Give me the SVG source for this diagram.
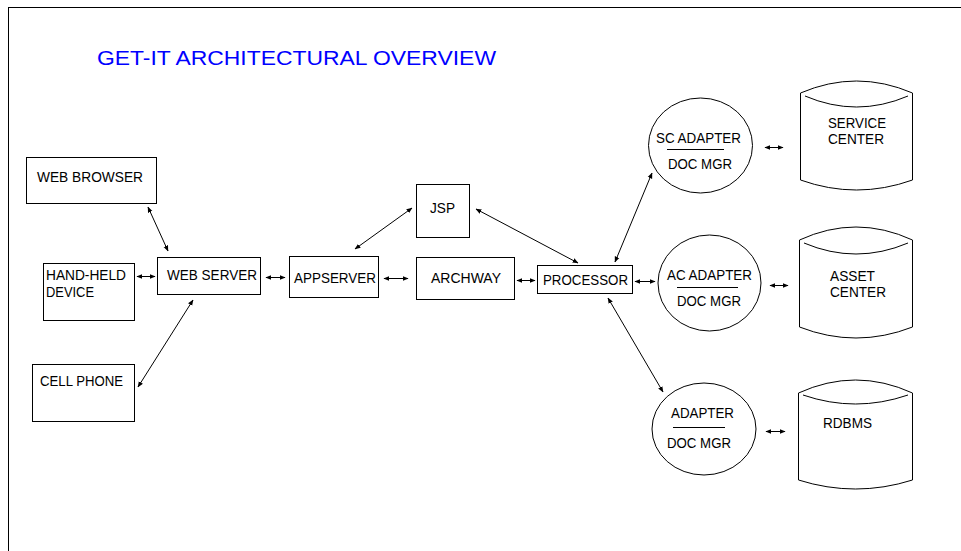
<svg xmlns="http://www.w3.org/2000/svg" width="961" height="551" viewBox="0 0 961 551">
<style>
text{font-family:"Liberation Sans",Arial,sans-serif;font-size:14px;fill:#000}
.title{font-size:20px;fill:#0000ff}
.box{fill:#fff;stroke:#000;stroke-width:1}
.shape{fill:#fff;stroke:#000;stroke-width:1}
.ln{fill:none;stroke:#000;stroke-width:1}
.conn line{stroke:#000;stroke-width:1;marker-start:url(#ah);marker-end:url(#ah)}
</style>
<defs>
<marker id="ah" viewBox="0 0 10 10" refX="9" refY="5" markerWidth="6" markerHeight="6" markerUnits="userSpaceOnUse" orient="auto-start-reverse">
<path d="M0,1 L10,5 L0,9 Z" fill="#000"/>
</marker>
</defs>
<rect x="0" y="0" width="961" height="551" fill="#fff"/>
<rect x="8.5" y="7.5" width="980" height="580" fill="none" stroke="#000" stroke-width="1"/>
<text class="title" x="97" y="65" textLength="399" lengthAdjust="spacingAndGlyphs">GET-IT ARCHITECTURAL OVERVIEW</text>

<g class="conn" id="connectors">
<line x1="148" y1="207" x2="168" y2="251"/>
<line x1="137" y1="276.5" x2="155" y2="276.5"/>
<line x1="193" y1="300" x2="138" y2="387"/>
<line x1="266" y1="277.5" x2="285" y2="277.5"/>
<line x1="355" y1="249" x2="412" y2="208"/>
<line x1="384" y1="278.5" x2="408" y2="278.5"/>
<line x1="476" y1="209" x2="578" y2="263"/>
<line x1="517" y1="280.5" x2="535" y2="280.5"/>
<line x1="615" y1="262" x2="652" y2="173"/>
<line x1="635" y1="281.5" x2="655" y2="281.5"/>
<line x1="608" y1="298" x2="663" y2="392"/>
<line x1="765" y1="147.5" x2="783" y2="147.5"/>
<line x1="770" y1="285.5" x2="788" y2="285.5"/>
<line x1="766" y1="431.5" x2="785" y2="431.5"/>
</g>

<g id="web-browser">
<rect class="box" x="26.5" y="157.5" width="130" height="46"/>
<text x="37" y="182" textLength="106" lengthAdjust="spacingAndGlyphs">WEB BROWSER</text>
</g>
<g id="hand-held">
<rect class="box" x="43.5" y="263.5" width="91" height="57"/>
<text x="46" y="280" textLength="80" lengthAdjust="spacingAndGlyphs">HAND-HELD</text>
<text x="46" y="297" textLength="48" lengthAdjust="spacingAndGlyphs">DEVICE</text>
</g>
<g id="cell-phone">
<rect class="box" x="32.5" y="364.5" width="102" height="57"/>
<text x="40" y="386" textLength="83" lengthAdjust="spacingAndGlyphs">CELL PHONE</text>
</g>
<g id="web-server">
<rect class="box" x="157.5" y="257.5" width="103" height="37"/>
<text x="167" y="280" textLength="90" lengthAdjust="spacingAndGlyphs">WEB SERVER</text>
</g>
<g id="appserver">
<rect class="box" x="289.5" y="256.5" width="89" height="41"/>
<text x="294" y="283" textLength="82" lengthAdjust="spacingAndGlyphs">APPSERVER</text>
</g>
<g id="jsp">
<rect class="box" x="416.5" y="184.5" width="53" height="53"/>
<text x="430" y="213" textLength="25" lengthAdjust="spacingAndGlyphs">JSP</text>
</g>
<g id="archway">
<rect class="box" x="416.5" y="257.5" width="98" height="42"/>
<text x="431" y="283" textLength="70" lengthAdjust="spacingAndGlyphs">ARCHWAY</text>
</g>
<g id="processor">
<rect class="box" x="537.5" y="265.5" width="95" height="28"/>
<text x="543" y="285" textLength="85" lengthAdjust="spacingAndGlyphs">PROCESSOR</text>
</g>

<g id="sc-adapter">
<ellipse class="shape" cx="700.5" cy="145.5" rx="52" ry="47.5"/>
<text x="656" y="143" textLength="85" lengthAdjust="spacingAndGlyphs">SC ADAPTER</text>
<line class="ln" x1="667" y1="149.5" x2="724" y2="149.5"/>
<text x="668" y="169" textLength="64" lengthAdjust="spacingAndGlyphs">DOC MGR</text>
</g>
<g id="ac-adapter">
<ellipse class="shape" cx="709.5" cy="283" rx="51.5" ry="48"/>
<text x="667" y="280" textLength="85" lengthAdjust="spacingAndGlyphs">AC ADAPTER</text>
<line class="ln" x1="677" y1="287.5" x2="738" y2="287.5"/>
<text x="677" y="306" textLength="64" lengthAdjust="spacingAndGlyphs">DOC MGR</text>
</g>
<g id="adapter">
<ellipse class="shape" cx="704" cy="429" rx="52" ry="46"/>
<text x="671" y="418" textLength="63" lengthAdjust="spacingAndGlyphs">ADAPTER</text>
<line class="ln" x1="673" y1="427.5" x2="725" y2="427.5"/>
<text x="667" y="448" textLength="64" lengthAdjust="spacingAndGlyphs">DOC MGR</text>
</g>

<g id="service-center">
<path class="shape" d="M800.5,93 Q856.5,69 912.5,93 L912.5,180 Q856.5,200 800.5,180 Z"/>
<path class="ln" d="M805,96 Q856.5,118 908,96"/>
<text x="828" y="128" textLength="58" lengthAdjust="spacingAndGlyphs">SERVICE</text>
<text x="828" y="144" textLength="56" lengthAdjust="spacingAndGlyphs">CENTER</text>
</g>
<g id="asset-center">
<path class="shape" d="M799.5,240 Q856,214 912.5,240 L912.5,327 Q856,349 799.5,327 Z"/>
<path class="ln" d="M804,243 Q856,265 908,243"/>
<text x="830" y="281" textLength="45" lengthAdjust="spacingAndGlyphs">ASSET</text>
<text x="830" y="297" textLength="56" lengthAdjust="spacingAndGlyphs">CENTER</text>
</g>
<g id="rdbms">
<path class="shape" d="M798.5,393 Q855.5,367 912.5,393 L912.5,480 Q855.5,498 798.5,480 Z"/>
<path class="ln" d="M803,395 Q855.5,413 908,395"/>
<text x="823" y="428" textLength="49" lengthAdjust="spacingAndGlyphs">RDBMS</text>
</g>
</svg>
